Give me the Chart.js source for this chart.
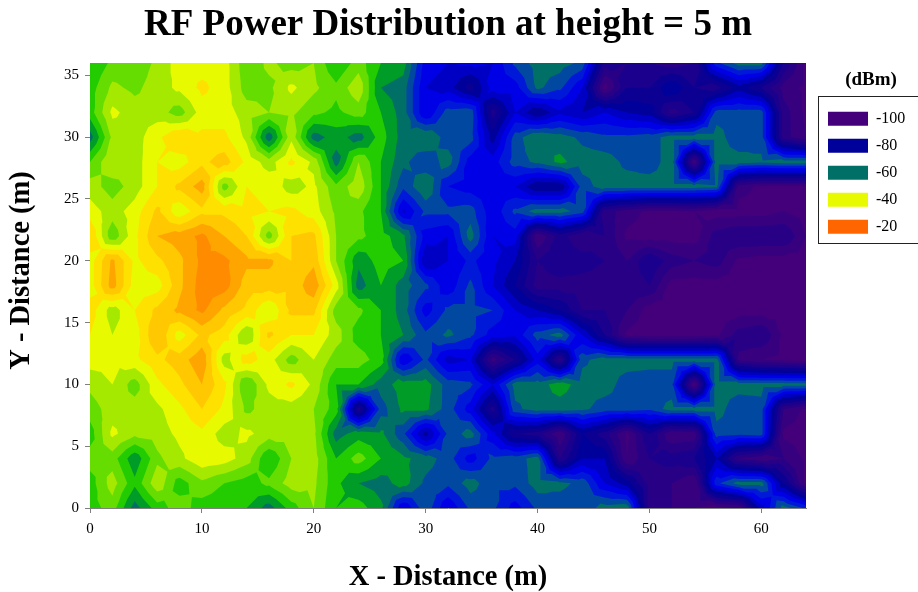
<!DOCTYPE html>
<html>
<head>
<meta charset="utf-8">
<title>RF Power Distribution</title>
<script src="https://cdn.jsdelivr.net/npm/chart.js@4"></script>
<style>
  html, body { margin: 0; padding: 0; background: #fff; overflow: hidden; }
  #wrap { width: 918px; height: 592px; }
</style>
</head>
<body>
<div id="wrap"><canvas id="grafico" width="918" height="592"></canvas></div>
<script>
// measured power in dBm, 2 m spacing, columns x = 0..64
var xPos = [0,2,4,6,8,10,12,14,16,18,20,22,24,26,28,30,32,34,36,38,40,42,44,46,48,50,52,54,56,58,60,62,64];
var yPos = [36,34,32,30,28,26,24,22,20,18,16,14,12,10,8,6,4,2,0];
var xTicks = [0,10,20,30,40,50,60];
var yTicks = [0,5,10,15,20,25,30,35];
var power = [
  [-52,-47,-47,-43,-38,-38,-38,-47,-43,-46,-44,-52,-46,-52,-54,-70,-72,-71,-72,-63,-58,-58,-61,-86,-88,-88,-90,-88,-65,-58,-58,-84,-97],
  [-50,-43,-45,-42,-39,-35,-38,-46,-45,-39,-43,-47,-41,-56,-58,-72,-74,-82,-70,-70,-59,-63,-72,-98,-84,-84,-76,-84,-86,-78,-84,-94,-97],
  [-50,-39,-42,-42,-46,-38,-38,-42,-44,-43,-47,-49,-46,-52,-58,-72,-62,-61,-86,-72,-80,-73,-76,-72,-76,-78,-90,-84,-62,-62,-62,-90,-97],
  [-58,-43,-42,-37,-32,-35,-35,-41,-59,-41,-58,-54,-58,-50,-58,-56,-62,-62,-78,-62,-56,-58,-61,-63,-63,-62,-58,-58,-58,-63,-62,-90,-96],
  [-48,-40,-42,-36,-38,-33,-30,-37,-42,-35,-41,-58,-44,-52,-59,-63,-58,-70,-70,-62,-59,-55,-58,-58,-61,-62,-58,-96,-58,-58,-59,-58,-58],
  [-42,-46,-42,-36,-31,-26,-46,-36,-37,-42,-39,-47,-41,-52,-63,-56,-68,-70,-70,-72,-80,-80,-62,-58,-58,-58,-58,-58,-59,-94,-97,-97,-97],
  [-38,-42,-38,-31,-39,-33,-33,-35,-36,-35,-38,-45,-47,-52,-73,-63,-63,-62,-71,-63,-58,-58,-62,-90,-94,-97,-97,-96,-98,-98,-98,-96,-98],
  [-32,-47,-37,-28,-26,-23,-28,-32,-46,-32,-31,-44,-47,-50,-55,-70,-72,-58,-72,-70,-96,-86,-92,-88,-97,-98,-98,-98,-90,-88,-88,-88,-96],
  [-38,-27,-37,-33,-29,-23,-23,-27,-27,-32,-29,-44,-55,-50,-52,-76,-72,-67,-71,-76,-88,-84,-86,-88,-92,-84,-90,-92,-90,-97,-98,-98,-98],
  [-38,-26,-38,-38,-29,-22,-22,-30,-30,-31,-25,-38,-58,-52,-58,-63,-71,-63,-72,-80,-90,-90,-90,-90,-90,-88,-98,-98,-98,-98,-98,-98,-98],
  [-34,-42,-36,-31,-27,-23,-29,-33,-40,-31,-31,-46,-47,-52,-58,-70,-63,-63,-64,-72,-76,-80,-88,-88,-92,-98,-98,-98,-98,-98,-98,-98,-98],
  [-36,-40,-38,-28,-38,-31,-34,-44,-31,-36,-36,-42,-50,-52,-56,-63,-59,-63,-70,-71,-62,-58,-72,-84,-97,-98,-98,-98,-97,-90,-88,-97,-98],
  [-38,-39,-37,-33,-30,-25,-42,-34,-38,-46,-40,-46,-46,-50,-72,-63,-74,-72,-94,-84,-70,-90,-61,-58,-58,-58,-58,-58,-58,-93,-96,-97,-98],
  [-43,-40,-46,-37,-33,-28,-35,-48,-39,-35,-41,-52,-52,-58,-54,-54,-62,-63,-72,-58,-58,-54,-58,-58,-62,-63,-63,-98,-58,-58,-58,-58,-58],
  [-46,-42,-42,-41,-37,-32,-37,-45,-42,-42,-44,-50,-86,-62,-55,-55,-62,-70,-86,-61,-58,-58,-59,-62,-62,-63,-58,-58,-58,-63,-62,-92,-97],
  [-50,-39,-43,-42,-39,-37,-42,-39,-42,-42,-43,-58,-54,-55,-63,-78,-63,-58,-71,-84,-86,-96,-80,-86,-97,-84,-96,-95,-62,-63,-62,-97,-98],
  [-46,-46,-55,-45,-41,-37,-38,-42,-52,-44,-42,-52,-46,-52,-55,-58,-62,-70,-63,-62,-58,-88,-76,-76,-96,-88,-86,-84,-76,-92,-95,-92,-97],
  [-50,-42,-51,-41,-50,-45,-48,-50,-47,-42,-43,-51,-56,-58,-54,-61,-63,-58,-63,-63,-58,-59,-61,-72,-78,-90,-92,-96,-65,-58,-58,-80,-97],
  [-50,-46,-58,-50,-46,-50,-51,-52,-58,-50,-44,-52,-50,-55,-72,-61,-72,-63,-63,-70,-63,-62,-63,-58,-57,-90,-92,-96,-98,-96,-74,-58,-65]
];

// contour bands, lower edge of each colour
var bandLevels = [-100,-96,-92,-88,-84,-80,-76,-72,-68,-64,-60,-56,-52,-48,-44,-40,-36,-32,-28,-24,-20];
var bandColors = ['#44007a','#36007f','#280086','#1a008c','#0c0092','#00009a','#0000c4','#0000e6','#0018d8','#0048a0','#007066',
                  '#009c28','#22cc00','#66dd00','#a5e800','#e8fa00','#ffe100','#ffc800','#ffa500','#ff8c00','#ff6600'];

var legendLabels = ['-100','-80','-60','-40','-20'];
var legendColors = ['#44007a','#00009a','#007066','#e8fa00','#ff6600'];

var fonte = '"Liberation Serif", serif';

function cortar(tri, nivel) {
  var saida = [];
  for (var i = 0; i < tri.length; i++) {
    var a = tri[i], b = tri[(i + 1) % tri.length];
    if (a[2] >= nivel) saida.push(a);
    if ((a[2] >= nivel) != (b[2] >= nivel)) {
      var t = (nivel - a[2]) / (b[2] - a[2]);
      saida.push([a[0] + t * (b[0] - a[0]), a[1] + t * (b[1] - a[1]), nivel]);
    }
  }
  return saida;
}

function triangulos() {
  var lista = [];
  for (var j = 0; j < yPos.length - 1; j++) {
    for (var i = 0; i < xPos.length - 1; i++) {
      var p1 = [xPos[i], yPos[j], power[j][i]];
      var p2 = [xPos[i + 1], yPos[j], power[j][i + 1]];
      var p3 = [xPos[i + 1], yPos[j + 1], power[j + 1][i + 1]];
      var p4 = [xPos[i], yPos[j + 1], power[j + 1][i]];
      var c = [(p1[0] + p2[0]) / 2, (p1[1] + p4[1]) / 2, (p1[2] + p2[2] + p3[2] + p4[2]) / 4];
      lista.push([p1, p2, c], [p2, p3, c], [p3, p4, c], [p4, p1, c]);
    }
  }
  return lista;
}

var contorno = {
  id: 'contorno',
  beforeDatasetsDraw: function (chart) {
    var ctx = chart.ctx, area = chart.chartArea;
    var sx = chart.scales.x, sy = chart.scales.y;
    var tris = triangulos();
    ctx.save();
    ctx.beginPath();
    ctx.rect(area.left, area.top, area.width, area.height);
    ctx.clip();
    ctx.fillStyle = bandColors[0];
    ctx.fillRect(area.left, area.top, area.width, area.height);
    for (var n = 1; n < bandLevels.length; n++) {
      ctx.beginPath();
      tris.forEach(function (t) {
        var pol = cortar(t, bandLevels[n]);
        if (pol.length < 3) return;
        pol.forEach(function (p, k) {
          var px = sx.getPixelForValue(p[0]), py = sy.getPixelForValue(p[1]);
          if (k == 0) ctx.moveTo(px, py); else ctx.lineTo(px, py);
        });
        ctx.closePath();
      });
      ctx.fillStyle = bandColors[n];
      ctx.fill();
    }
    ctx.restore();
  }
};

// legend sits over the right margin with a frame, like the original
var legendaPos = {
  id: 'legendaPos',
  beforeUpdate: function (chart) {
    var leg = chart.legend;
    if (leg && !leg._largura) {
      var fit = leg.fit;
      leg.fit = function () { fit.call(this); this.width = 112; };
      leg._largura = true;
    }
  },
  afterLayout: function (chart) {
    var leg = chart.legend;
    leg.left = 817;
    leg.right = 925;
    leg.width = 108;
    leg.top = 66;
    // the y title is not centred on the axis in the original, it sits 15px higher
    var sy = chart.scales.y;
    if (!sy._tituloAlto) {
      var desenha = sy.drawTitle;
      sy.drawTitle = function () {
        var b = this.bottom;
        this.bottom = b - 30;
        desenha.call(this);
        this.bottom = b;
      };
      sy._tituloAlto = true;
    }
  },
  afterDraw: function (chart) {
    var ctx = chart.ctx;
    ctx.save();
    ctx.strokeStyle = '#222';
    ctx.lineWidth = 1;
    ctx.strokeRect(818.5, 96.5, 110, 147);
    ctx.restore();
  }
};

var pontos = [];
yPos.forEach(function (y, j) {
  xPos.forEach(function (x, i) {
    pontos.push({ x: x, y: y, v: power[j][i] });
  });
});

new Chart(document.getElementById('grafico').getContext('2d'), {
  type: 'scatter',
  data: { datasets: [{ label: 'dBm', data: pontos, pointRadius: 0 }] },
  plugins: [contorno, legendaPos],
  options: {
    responsive: false,
    animation: false,
    layout: { padding: 0 },
    plugins: {
      tooltip: { enabled: false },
      title: {
        display: true,
        text: 'RF Power Distribution at height = 5 m',
        fullSize: false,
        color: '#000',
        font: { family: fonte, size: 37, weight: 'bold' },
        padding: { top: 3, bottom: 15.6 }
      },
      legend: {
        position: 'right',
        align: 'start',
        title: {
          display: true,
          text: '(dBm)',
          color: '#000',
          font: { family: fonte, size: 19, weight: 'bold' },
          padding: { top: 5, bottom: 6 }
        },
        labels: {
          boxWidth: 40,
          boxHeight: 14,
          padding: 11,
          color: '#111',
          font: { family: fonte, size: 16 },
          generateLabels: function () {
            return legendLabels.map(function (t, i) {
              return { text: t, fillStyle: legendColors[i], strokeStyle: legendColors[i], lineWidth: 0, hidden: false, datasetIndex: 0 };
            });
          }
        }
      }
    },
    scales: {
      x: {
        type: 'linear',
        min: 0,
        max: 64,
        afterFit: function (s) { s.height = 84; },
        afterBuildTicks: function (s) { s.ticks = xTicks.map(function (v) { return { value: v }; }); },
        border: { color: '#808080' },
        grid: { drawOnChartArea: false, color: '#808080', tickLength: 5 },
        ticks: { color: '#000', maxRotation: 0, padding: 7, font: { family: fonte, size: 15 } },
        title: {
          display: true,
          text: 'X - Distance (m)',
          color: '#000',
          font: { family: fonte, size: 28.5, weight: 'bold' },
          padding: { top: 10, bottom: -3 }
        }
      },
      y: {
        type: 'linear',
        min: 0,
        max: 36,
        afterFit: function (s) { s.width = 90; },
        afterBuildTicks: function (s) { s.ticks = yTicks.map(function (v) { return { value: v }; }); },
        border: { color: '#808080' },
        grid: { drawOnChartArea: false, color: '#808080', tickLength: 5 },
        ticks: { color: '#000', padding: 6, font: { family: fonte, size: 15 } },
        title: {
          display: true,
          text: 'Y - Distance (m)',
          color: '#000',
          font: { family: fonte, size: 28.5, weight: 'bold' },
          padding: { top: 5, bottom: 4 }
        }
      }
    }
  }
});
</script>
</body>
</html>
